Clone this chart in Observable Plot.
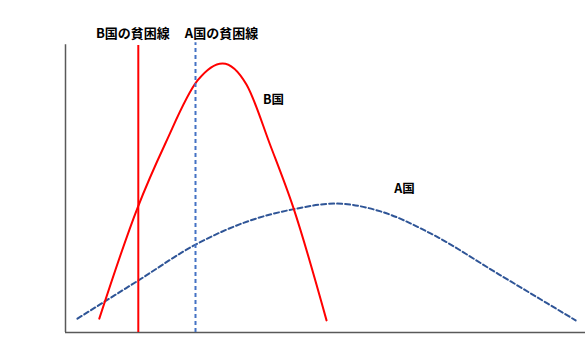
<!DOCTYPE html>
<html>
<head>
<meta charset="utf-8">
<script src="https://cdn.jsdelivr.net/npm/d3@7"></script>
<script src="https://cdn.jsdelivr.net/npm/@observablehq/plot@0.6"></script>
<style>
  body { margin: 0; background: #fff; }
</style>
</head>
<body>
<div id="chart"></div>
<script>
// Income distribution curves (x = income, y = population share)
const bIncome = [6.5, 13.8, 19.2, 25.4, 30.2, 34.8, 39.4, 43.8, 50.2];
const bShare  = [4.8, 42.9, 65.4, 87.2, 93.1, 85.8, 64.7, 43.3, 4.2];

const aIncome = [2.3, 14.0, 25.0, 35.6, 43.7, 51.9, 60.6, 70.2, 83.1, 98.1];
const aShare  = [4.8, 18.0, 30.4, 38.8, 42.6, 44.6, 41.9, 34.3, 20.4, 4.2];

const countries = ["A国", "B国"];
const povertyLineA = 25.0;
const povertyLineB = 14.0;
const povertyLabels = ["A国の貧困線", "B国の貧困線"];

const bData = bIncome.map((x, i) => ({x, y: bShare[i]}));
const aData = aIncome.map((x, i) => ({x, y: aShare[i]}));

const font = "'Noto Sans CJK JP', 'Noto Sans', sans-serif";

const chart = Plot.plot({
  width: 586,
  height: 356,
  marginLeft: 65,
  marginRight: 1,
  marginTop: 43,
  marginBottom: 24,
  style: {background: "#fff", fontFamily: font},
  x: {domain: [0, 100], axis: null},
  y: {domain: [0, 100], axis: null},
  marks: [
    // axes
    Plot.ruleX([0], {y1: 0, y2: 99.6, stroke: "#595959", strokeWidth: 1.5}),
    Plot.ruleY([0], {x1: 0, x2: 100, stroke: "#595959", strokeWidth: 1.5}),
    // curves
    Plot.line(aData, {x: "x", y: "y", stroke: "#2f5597", strokeWidth: 2, strokeDasharray: "5,3", curve: "monotone-x"}),
    Plot.line(bData, {x: "x", y: "y", stroke: "#ff0000", strokeWidth: 2, curve: "monotone-x"}),
    // poverty lines
    Plot.ruleX([povertyLineB], {y1: 0, y2: 99.3, stroke: "#ff0000", strokeWidth: 2}),
    Plot.ruleX([povertyLineA], {y1: 0, y2: 100.3, stroke: "#4472c4", strokeWidth: 2, strokeDasharray: "4,3"}),
    // labels
    Plot.text([povertyLabels[1]], {x: povertyLineB, y: 103.5, dx: -5.5, text: d => d, fontSize: 13, fontWeight: "bold", fill: "#000"}),
    Plot.text([povertyLabels[0]], {x: povertyLineA, y: 103.5, dx: 26, text: d => d, fontSize: 13, fontWeight: "bold", fill: "#000"}),
    Plot.text([countries[1]], {x: 40, y: 80.3, text: d => d, fontSize: 12.5, fontWeight: "bold", fill: "#000"}),
    Plot.text([countries[0]], {x: 65.2, y: 49.5, text: d => d, fontSize: 12.5, fontWeight: "bold", fill: "#000"})
  ]
});
document.getElementById("chart").append(chart);
</script>
</body>
</html>
